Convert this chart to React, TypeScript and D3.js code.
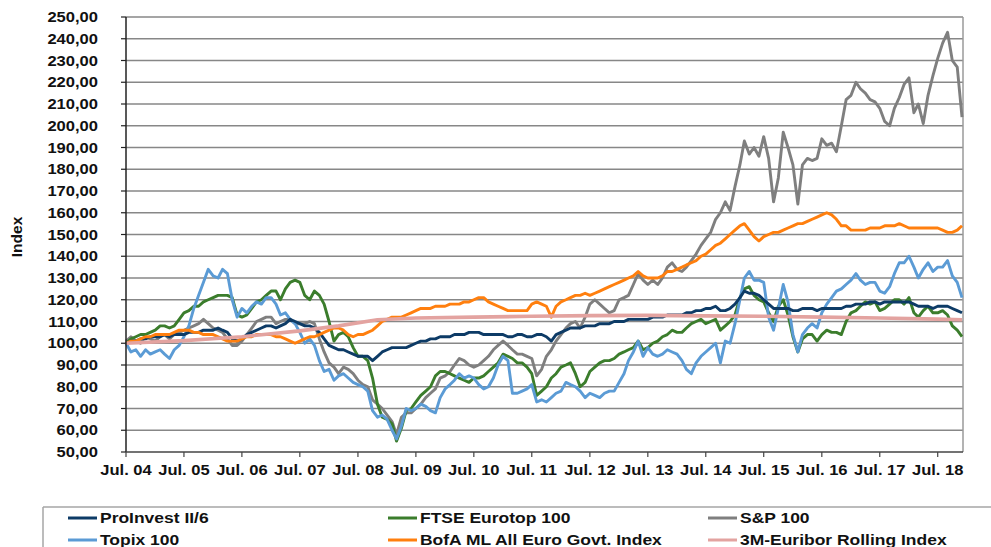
import React from 'react';
import * as d3 from 'd3';

// monthly values, Jul 2004 .. Dec 2018 (one row per calendar year)
const proInvest = [
  100, 101, 101, 102, 102, 103,
  103, 103, 104, 103, 104, 104, 104, 105, 105, 105, 106, 106,
  106, 107, 106, 105, 102, 101, 102, 104, 105, 106, 107, 108,
  108, 107, 108, 109, 111, 110, 109, 108, 108, 107, 105, 102,
  99, 98, 97, 97, 96, 95, 94, 94, 94, 92, 94, 96,
  97, 98, 98, 98, 98, 99, 100, 101, 101, 102, 102, 103,
  103, 103, 104, 104, 104, 105, 105, 105, 104, 104, 104, 104,
  104, 103, 103, 104, 104, 103, 103, 104, 104, 103, 101, 104,
  105, 106, 107, 107, 107, 108, 108, 108, 109, 109, 109, 110,
  110, 110, 111, 111, 111, 111, 111, 112, 112, 112, 113, 113,
  113, 113, 114, 114, 115, 115, 116, 116, 117, 115, 115, 116,
  118, 121, 124, 123, 123, 122, 120, 118, 116, 116, 116, 116,
  115, 115, 116, 116, 116, 115, 116, 116, 116, 116, 116, 117,
  117, 118, 118, 118, 119, 119, 118, 119, 119, 119, 119, 119,
  119, 118, 117, 117, 117, 116, 117, 117, 117, 116, 115, 114,
];

const ftse = [
  100, 102, 103, 104, 104, 105,
  106, 108, 108, 107, 108, 111, 114, 115, 117, 117, 119, 120,
  121, 122, 122, 122, 121, 113, 112, 113, 116, 119, 120, 122,
  124, 124, 120, 125, 128, 129, 128, 122, 120, 124, 122, 118,
  110, 101, 104, 105, 103, 98, 94, 94, 92, 84, 72, 66,
  65, 63, 55, 61, 69, 70, 73, 76, 78, 80, 85, 87,
  87, 86, 85, 84, 83, 82, 84, 84, 85, 87, 89, 91,
  95, 94, 93, 91, 91, 89, 86, 76, 78, 80, 84, 86,
  89, 90, 91, 86, 80, 82, 87, 89, 91, 92, 92, 93,
  95, 96, 97, 98, 101, 97, 98, 100, 101, 103, 104, 106,
  105, 105, 107, 109, 110, 111, 109, 110, 111, 106, 108, 110,
  113, 121, 125, 126, 122, 120, 119, 114, 110, 117, 120, 113,
  103, 96, 102, 104, 104, 101, 104, 106, 105, 105, 104, 110,
  114, 115, 117, 119, 118, 119, 115, 116, 118, 120, 120, 118,
  121, 114, 112, 115, 117, 114, 114, 115, 113, 108, 106, 103,
];

const sp100 = [
  101, 103, 101, 100, 103, 102,
  101, 103, 104, 102, 104, 105, 106, 107, 108, 109, 111, 109,
  107, 106, 105, 102, 99, 99, 101, 104, 107, 110, 111, 112,
  112, 109, 110, 111, 111, 109, 109, 109, 110, 109, 102, 96,
  91, 89, 86, 89, 88, 86, 83, 81, 80, 74, 72, 70,
  67, 64, 58, 66, 68, 68, 70, 72, 75, 77, 79, 84,
  85, 87, 90, 93, 92, 90, 89, 90, 92, 94, 97, 99,
  101, 99, 97, 95, 95, 94, 93, 85, 88, 94, 97, 101,
  104, 107, 109, 110, 107, 112, 118, 120, 118, 116, 114, 115,
  120, 121, 122, 127, 132, 129, 127, 129, 127, 130, 135, 137,
  134, 133, 135, 138, 141, 145, 148, 151, 157, 160, 165, 161,
  172, 182, 193, 187, 190, 186, 195, 185, 165, 176, 197, 190,
  182, 164, 182, 185, 184, 185, 194, 191, 192, 188, 200, 212,
  214, 220, 217, 215, 212, 211, 208, 202, 200, 208, 213, 219,
  222, 206, 210, 201, 214, 223, 231, 238, 243, 230, 227, 204,
];

const topix = [
  100, 96, 97, 94, 97, 95,
  96, 97, 95, 93, 97, 99, 103, 108, 116, 122, 128, 134,
  131, 130, 134, 132, 120, 112, 116, 114, 117, 119, 118, 121,
  121, 118, 113, 114, 111, 109, 105, 100, 102, 99, 92, 87,
  88, 83, 85, 86, 84, 82, 81, 80, 78, 69, 66, 67,
  65, 60, 56, 62, 70, 69, 70, 72, 71, 69, 68, 75,
  79, 81, 83, 86, 84, 85, 84, 81, 79, 80, 84, 90,
  94, 92, 77, 77, 78, 79, 81, 73, 74, 73, 75, 77,
  78, 82, 81, 80, 78, 75, 77, 76, 75, 77, 78, 78,
  82, 86, 92, 96, 101, 94, 98, 95, 94, 95, 97, 96,
  95, 92, 88, 86, 91, 94, 96, 98, 100, 91, 101, 100,
  109, 120, 130, 133, 129, 129, 128, 112, 106, 116, 127, 119,
  104, 96, 104, 107, 109, 107, 114, 118, 121, 124, 125, 127,
  129, 132, 129, 127, 128, 128, 124, 123, 126, 132, 137, 137,
  140, 135, 130, 134, 137, 133, 135, 135, 138, 131, 128, 121,
];

const bofa = [
  100, 101, 101, 102, 103, 103,
  104, 104, 104, 104, 105, 106, 106, 106, 105, 105, 104, 104,
  104, 103, 102, 101, 101, 101, 102, 103, 103, 104, 104, 104,
  104, 103, 103, 102, 101, 100, 101, 102, 103, 103, 104, 105,
  106, 107, 107, 106, 104, 103, 104, 104, 105, 106, 108, 110,
  111, 112, 112, 112, 113, 114, 115, 116, 116, 116, 117, 117,
  117, 118, 118, 118, 119, 119, 120, 121, 121, 119, 118, 117,
  116, 115, 115, 115, 115, 115, 118, 119, 118, 117, 112, 117,
  119, 120, 121, 122, 122, 123, 122, 123, 124, 125, 126, 127,
  128, 129, 130, 131, 133, 131, 130, 130, 130, 131, 133, 133,
  134, 135, 136, 137, 138, 140, 141, 143, 145, 146, 148, 150,
  152, 154, 155, 152, 149, 147, 149, 150, 151, 151, 152, 153,
  154, 155, 155, 156, 157, 158, 159, 160, 159, 157, 154, 154,
  152, 152, 152, 152, 153, 153, 153, 154, 154, 154, 155, 154,
  153, 153, 153, 153, 153, 153, 153, 152, 151, 151, 152, 154,
];

// smooth money-market index, read at fewer points (month offsets from Jul 2004)
const euriborMonths = [0, 12, 24, 36, 44, 52, 60, 72, 84, 96, 108, 120, 132, 144, 156, 168, 173];
const euribor = [100, 101.2, 103, 105.7, 108, 110.8, 111.6, 112, 112.4, 112.7, 112.8, 112.6, 112.4, 112, 111.6, 111.1, 110.8];

const yTicks = d3.range(50, 251, 10);
const tickYears = d3.range(2004, 2019);

const FONT = '"Liberation Sans", Arial, Helvetica, sans-serif';
const fmt = d3.formatLocale({ decimal: ',', thousands: '.', grouping: [3], currency: ['', ''] }).format('.2f');

const monthDate = (m: number) => new Date(2004, 6 + m, 1);

const series = [
  { name: 'S&P 100', values: sp100, color: '#7f7f7f' },
  { name: 'FTSE Eurotop 100', values: ftse, color: '#3b7d2c' },
  { name: 'Topix 100', values: topix, color: '#5b9bd5' },
  { name: 'ProInvest II/6', values: proInvest, color: '#0d3b66' },
  { name: 'BofA ML All Euro Govt. Index', values: bofa, color: '#ff7f0e' },
];

const legendRows = [
  ['ProInvest II/6', '#0d3b66', 0, 0],
  ['FTSE Eurotop 100', '#3b7d2c', 1, 0],
  ['S&P 100', '#7f7f7f', 2, 0],
  ['Topix 100', '#5b9bd5', 0, 1],
  ['BofA ML All Euro Govt. Index', '#ff7f0e', 1, 1],
  ['3M-Euribor Rolling Index', '#e3a3a0', 2, 1],
] as const;

const Txt = ({ x, y, anchor = 'start', size = 14.4, children }: any) => (
  <text
    transform={`translate(${x},${y}) scale(1.15,1)`}
    textAnchor={anchor}
    fontSize={size}
    fontWeight="bold"
    fontFamily={FONT}
    fill="#111"
  >
    {children}
  </text>
);

export default function App() {
  const left = 126, right = 963, top = 17, bottom = 452;

  const x = d3.scaleTime()
    .domain([new Date(2004, 6, 1), new Date(2018, 11, 1)])
    .range([left, right - 1]);
  const y = d3.scaleLinear().domain([50, 250]).range([bottom, top]);

  const line = d3.line<[Date, number]>()
    .x(d => x(d[0]))
    .y(d => y(d[1]));

  const colX = [68, 388, 708];
  const rowY = [518, 540];

  return (
    <svg width={991} height={547} style={{ position: 'absolute', left: 0, top: 0, background: '#fff' }}>
      {/* grid */}
      {yTicks.filter(v => v > 50).map(v => (
        <line key={v} x1={left} x2={right} y1={y(v)} y2={y(v)} stroke="#878787" strokeWidth={1.4} />
      ))}
      <line x1={right} x2={right} y1={top} y2={bottom} stroke="#9a9a9a" strokeWidth={1.5} />

      {/* series */}
      {series.map(s => (
        <path
          key={s.name}
          d={line(s.values.map((v, i) => [monthDate(i), v] as [Date, number])) || ''}
          fill="none"
          stroke={s.color}
          strokeWidth={2.9}
          strokeLinejoin="round"
        />
      ))}
      <path
        d={line(euribor.map((v, i) => [monthDate(euriborMonths[i]), v] as [Date, number])) || ''}
        fill="none"
        stroke="#e3a3a0"
        strokeWidth={3.6}
        strokeLinejoin="round"
      />

      {/* axes */}
      <line x1={left} x2={left} y1={top} y2={bottom} stroke="#222" strokeWidth={1.5} />
      <line x1={left} x2={right} y1={bottom} y2={bottom} stroke="#444" strokeWidth={1.5} />
      {yTicks.map(v => (
        <g key={v}>
          <line x1={left - 5} x2={left} y1={y(v)} y2={y(v)} stroke="#222" strokeWidth={1.2} />
          <Txt x={98} y={y(v) + 5.2} anchor="end">{fmt(v)}</Txt>
        </g>
      ))}
      {tickYears.map(yr => {
        const tx = x(new Date(yr, 6, 1));
        return (
          <g key={yr}>
            <line x1={tx} x2={tx} y1={bottom} y2={bottom + 5} stroke="#444" strokeWidth={1.2} />
            <Txt x={tx} y={475} anchor="middle">{`Jul. ${String(yr % 100).padStart(2, '0')}`}</Txt>
          </g>
        );
      })}
      <text
        transform="translate(22,237) rotate(-90)"
        textAnchor="middle"
        fontSize={15.5}
        fontWeight="bold"
        fontFamily={FONT}
        fill="#111"
      >
        Index
      </text>

      {/* legend */}
      <line x1={43} x2={991} y1={507} y2={507} stroke="#a6a6a6" strokeWidth={1.5} />
      <line x1={43} x2={43} y1={507} y2={547} stroke="#a6a6a6" strokeWidth={1.5} />
      {legendRows.map(([name, color, c, r]) => (
        <g key={name}>
          <line x1={colX[c]} x2={colX[c] + 29} y1={rowY[r]} y2={rowY[r]} stroke={color} strokeWidth={3} />
          <Txt x={colX[c] + 32} y={rowY[r] + 5} size={15.2}>{name}</Txt>
        </g>
      ))}
    </svg>
  );
}
